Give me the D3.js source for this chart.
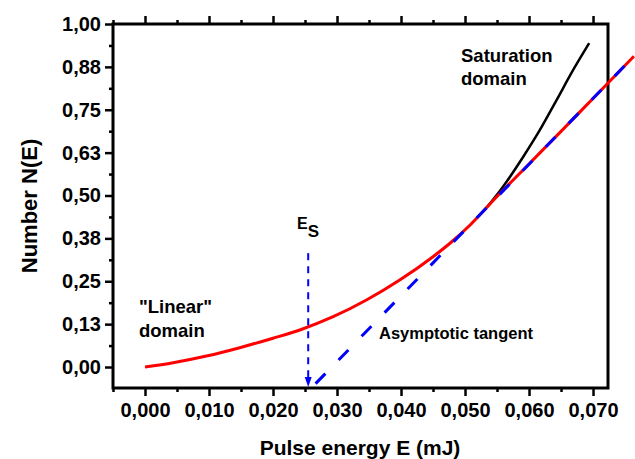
<!DOCTYPE html>
<html>
<head>
<meta charset="utf-8">
<script src="https://cdn.jsdelivr.net/npm/d3@7"></script>
<style>
  body { margin: 0; background: #fff; }
  svg text { font-family: "Liberation Sans", Arial, sans-serif; font-weight: bold; fill: #000; }
</style>
</head>
<body>
<script>
// data
var redE = [0, 0.0044, 0.0096, 0.0148, 0.0200, 0.0242, 0.0294, 0.0346, 0.0398, 0.0450, 0.0477, 0.0508, 0.055, 0.060, 0.065, 0.070, 0.0764];
var redN = [0, 0.0125, 0.032, 0.0563, 0.084, 0.108, 0.1466, 0.1953, 0.2536, 0.3216, 0.3615, 0.414, 0.497, 0.592, 0.687, 0.783, 0.906];

var blackE = [0.052, 0.0535, 0.0552, 0.0591, 0.0617, 0.0643, 0.0669, 0.0694];
var blackN = [0.438, 0.468, 0.507, 0.613, 0.691, 0.778, 0.866, 0.944];

var tangentE = [0.0260, 0.0764];
var tangentN = [-0.061, 0.906];

var Es = 0.0255;
var EsTop = 0.332;

var xTicks = [0, 0.01, 0.02, 0.03, 0.04, 0.05, 0.06, 0.07];
var xTickLabels = ["0,000", "0,010", "0,020", "0,030", "0,040", "0,050", "0,060", "0,070"];
var xMinor = [-0.005, 0.005, 0.015, 0.025, 0.035, 0.045, 0.055, 0.065];
var yTicks = [0, 0.125, 0.25, 0.375, 0.5, 0.625, 0.75, 0.875, 1];
var yTickLabels = ["0,00", "0,13", "0,25", "0,38", "0,50", "0,63", "0,75", "0,88", "1,00"];
var yMinor = [0.0625, 0.1875, 0.3125, 0.4375, 0.5625, 0.6875, 0.8125, 0.9375];

var width = 635, height = 459;
var plotL = 113, plotR = 608, plotT = 24, plotB = 388;

var svg = d3.select("body").append("svg")
  .attr("width", width)
  .attr("height", height);

var x = d3.scaleLinear().domain([-0.005, 0.07234]).range([plotL, plotR]);
var y = d3.scaleLinear().domain([-0.0612, 1]).range([plotB, plotT]);

// axes (ticks outside the frame)
function styleAxis(g) {
  g.select(".domain").remove();
  g.selectAll("line").attr("stroke", "#000").attr("stroke-width", 2.5);
  g.selectAll("text").style("font-size", "20px");
}

svg.append("g").attr("transform", "translate(0," + plotB + ")")
  .call(d3.axisBottom(x).tickValues(xTicks).tickFormat(function (d, i) { return xTickLabels[i]; }).tickSize(8).tickPadding(7))
  .call(styleAxis);
svg.append("g").attr("transform", "translate(0," + plotB + ")")
  .call(d3.axisBottom(x).tickValues(xMinor).tickFormat("").tickSize(4))
  .call(styleAxis);
svg.append("g").attr("transform", "translate(0," + plotT + ")")
  .call(d3.axisTop(x).tickValues(xTicks).tickFormat("").tickSize(8))
  .call(styleAxis);
svg.append("g").attr("transform", "translate(0," + plotT + ")")
  .call(d3.axisTop(x).tickValues(xMinor).tickFormat("").tickSize(4))
  .call(styleAxis);
svg.append("g").attr("transform", "translate(" + plotL + ",0)")
  .call(d3.axisLeft(y).tickValues(yTicks).tickFormat(function (d, i) { return yTickLabels[i]; }).tickSize(8).tickPadding(4))
  .call(styleAxis);
svg.append("g").attr("transform", "translate(" + plotL + ",0)")
  .call(d3.axisLeft(y).tickValues(yMinor).tickFormat("").tickSize(4))
  .call(styleAxis);

// frame
svg.append("rect")
  .attr("x", plotL).attr("y", plotT)
  .attr("width", plotR - plotL).attr("height", plotB - plotT)
  .attr("fill", "none").attr("stroke", "#000").attr("stroke-width", 3);

var line = d3.line()
  .x(function (d) { return x(d[0]); })
  .y(function (d) { return y(d[1]); })
  .curve(d3.curveMonotoneX);

// saturation curve (black)
svg.append("path")
  .datum(d3.zip(blackE, blackN))
  .attr("d", line)
  .attr("fill", "none").attr("stroke", "#000").attr("stroke-width", 2.5);

// N(E) (red)
svg.append("path")
  .datum(d3.zip(redE, redN))
  .attr("d", line)
  .attr("fill", "none").attr("stroke", "#ff0000").attr("stroke-width", 3);

// asymptotic tangent (blue dashed)
svg.append("path")
  .datum(d3.zip(tangentE, tangentN))
  .attr("d", d3.line().x(function (d) { return x(d[0]); }).y(function (d) { return y(d[1]); }))
  .attr("fill", "none").attr("stroke", "#0000ff").attr("stroke-width", 3)
  .attr("stroke-dasharray", "14,19").attr("stroke-dashoffset", -6);

// Es marker
svg.append("line")
  .attr("x1", x(Es)).attr("x2", x(Es))
  .attr("y1", y(EsTop)).attr("y2", plotB - 10)
  .attr("stroke", "#0000ff").attr("stroke-width", 2)
  .attr("stroke-dasharray", "7,6");
svg.append("path")
  .attr("d", "M" + (x(Es) - 3.5) + "," + (plotB - 11) + "L" + (x(Es) + 3.5) + "," + (plotB - 11) + "L" + x(Es) + "," + (plotB - 1) + "Z")
  .attr("fill", "#0000ff");

var es = svg.append("text").attr("x", 297).attr("y", 229).style("font-size", "16px");
es.append("tspan").text("E");
es.append("tspan").attr("dy", 8).style("font-size", "17px").text("S");

// annotations
function label(lines, xPos, yPos, size, gap) {
  var t = svg.append("text").style("font-size", size + "px");
  lines.forEach(function (s, i) {
    t.append("tspan").attr("x", xPos).attr("y", yPos + i * gap).text(s);
  });
}
label(["Saturation", "domain"], 461, 62, 18.5, 23);
label(["\"Linear\"", "domain"], 139, 313, 18.5, 24);
label(["Asymptotic tangent"], 379, 339, 16.5, 0);

// axis titles
svg.append("text")
  .attr("x", 360).attr("y", 455)
  .attr("text-anchor", "middle")
  .style("font-size", "21px")
  .text("Pulse energy E (mJ)");
svg.append("text")
  .attr("transform", "translate(37,206) rotate(-90)")
  .attr("text-anchor", "middle")
  .style("font-size", "22px")
  .text("Number N(E)");
</script>
</body>
</html>
